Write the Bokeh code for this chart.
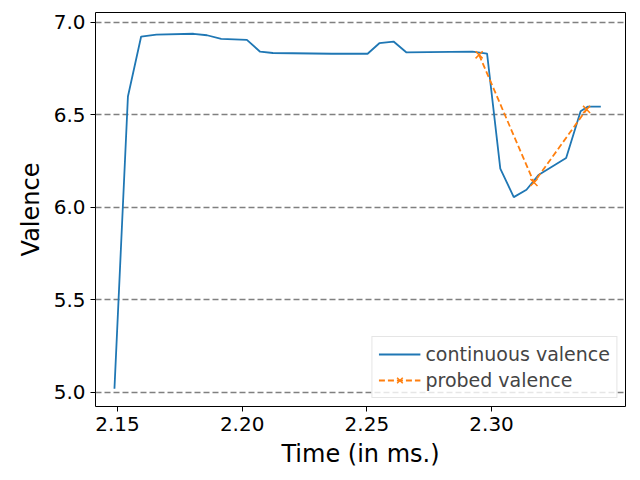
from bokeh.plotting import figure
from bokeh.models import Range1d, Label, Legend, LegendItem, FixedTicker
from bokeh.embed import file_html
from bokeh.resources import INLINE

cont_t = [2148.8, 2154.2, 2159.5, 2165.6, 2180.5, 2185.9, 2191.6, 2201.9, 2207.2, 2212.3,
          2236.0, 2250.3, 2255.0, 2260.7, 2265.9, 2292.3, 2298.2, 2303.5, 2308.9, 2314.0,
          2318.8, 2329.9, 2335.7, 2338.5, 2343.8]
cont_v = [5.02, 6.60, 6.924, 6.934, 6.939, 6.931, 6.911, 6.906, 6.842, 6.835,
          6.831, 6.831, 6.888, 6.897, 6.838, 6.843, 6.832, 6.21, 6.056, 6.096,
          6.175, 6.267, 6.52, 6.545, 6.545]
probe_t = [2295.0, 2317.0, 2338.1]
probe_v = [6.825, 6.135, 6.53]
xticks = [2.15e6, 2.20e6, 2.25e6, 2.30e6]
xtick_labels = {2.15e6: "2.15", 2.20e6: "2.20", 2.25e6: "2.25", 2.30e6: "2.30"}
yticks = [5.0, 5.5, 6.0, 6.5, 7.0]

ct = [t * 1000 for t in cont_t]
pt = [t * 1000 for t in probe_t]

p = figure(width=632, height=472, output_backend="svg", toolbar_location=None,
           x_range=Range1d(2141.2e3, 2353.7e3), y_range=Range1d(4.924, 7.054),
           min_border_left=95, min_border_right=7, min_border_top=12, min_border_bottom=66,
           frame_width=530, frame_height=394)
p.outline_line_color = "black"
p.outline_line_width = 1
p.xgrid.visible = False
p.ygrid.grid_line_color = "gray"
p.ygrid.grid_line_dash = "6 3"
p.ygrid.grid_line_width = 1.5
p.xaxis.ticker = FixedTicker(ticks=xticks)
p.xaxis.major_label_overrides = xtick_labels
p.yaxis.ticker = FixedTicker(ticks=yticks)
p.yaxis.major_label_overrides = {5.0: "5.0", 5.5: "5.5", 6.0: "6.0", 6.5: "6.5", 7.0: "7.0"}
for ax in (p.xaxis[0], p.yaxis[0]):
    ax.major_label_text_font_size = "20px"
    ax.major_label_text_font = "DejaVu Sans"
    ax.axis_label_text_font_size = "24px"
    ax.axis_label_text_font = "DejaVu Sans"
    ax.axis_label_text_font_style = "normal"
    ax.axis_label_text_color = "black"
    ax.axis_label_standoff = 6
    ax.minor_tick_line_color = None
    ax.major_tick_in = 0
    ax.major_tick_out = 5
    ax.axis_line_color = None
    ax.major_label_text_color = "black"
p.xaxis.axis_label = "Time (in ms.)"
p.yaxis.axis_label = "Valence"

l1 = p.line(ct, cont_v, line_color="#1f77b4", line_width=1.8)
l2 = p.line(pt, probe_v, line_color="#ff7f0e", line_width=1.8, line_dash="6 3")
m2 = p.scatter(pt, probe_v, marker="x", size=10, line_color="#ff7f0e", line_width=1.5)

leg = Legend(items=[LegendItem(label="continuous valence", renderers=[l1]),
                    LegendItem(label="probed valence", renderers=[l2, m2])],
             location="bottom_right", label_text_font_size="19px",
             label_text_font="DejaVu Sans", border_line_color="#cccccc",
             background_fill_alpha=0.8, margin=8, padding=6, spacing=4,
             glyph_width=42)
p.add_layout(leg)

p.add_layout(Label(x=530, y=-43, x_units="screen", y_units="screen", text="1e6",
                   text_font_size="20px", text_font="DejaVu Sans", text_align="right",
                   text_baseline="middle"))

open("out.html", "w").write(file_html(p, INLINE))
